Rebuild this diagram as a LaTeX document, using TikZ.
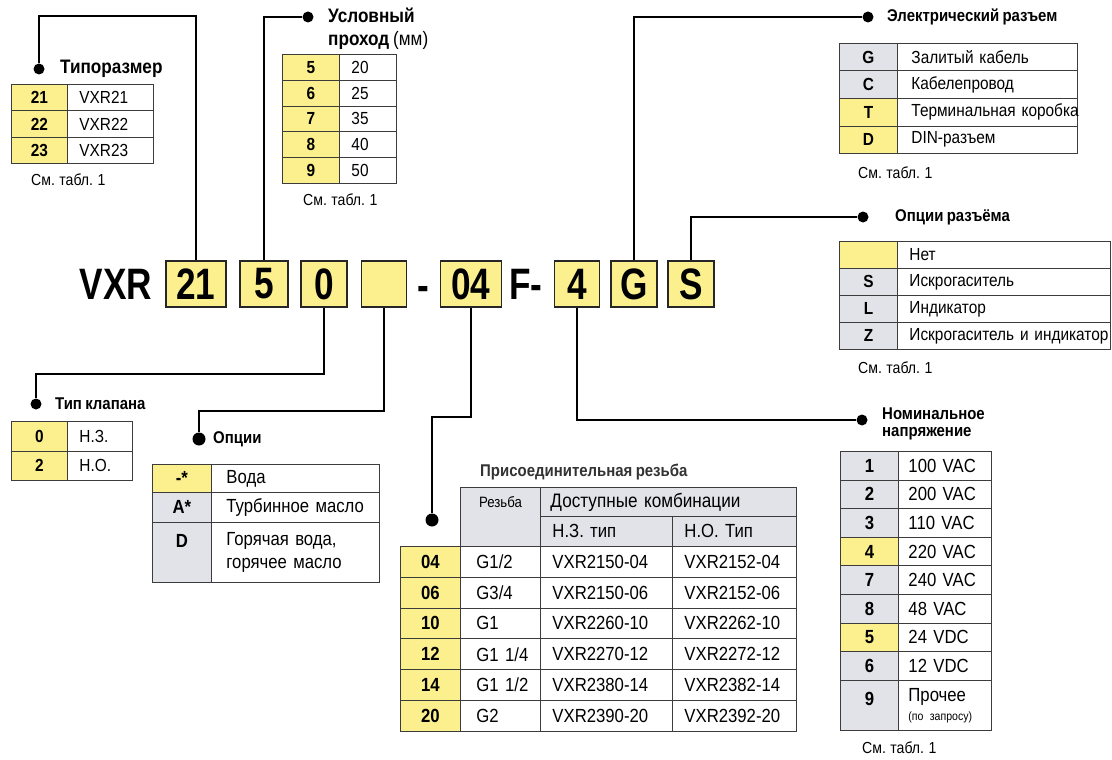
\documentclass[tikz,border=0pt]{standalone}
\usepackage{fontspec}
\setmainfont{Liberation Sans}[FakeStretch=0.88,WordSpace=0.8]
\newfontfamily\bigfont{Liberation Sans}[FakeStretch=0.8]
\usetikzlibrary{positioning}

\definecolor{codeyel}{HTML}{FCF08E}
\definecolor{cellgray}{HTML}{E2E3E8}
\definecolor{rulec}{HTML}{3C3C3C}
\newcommand{\tabsize}{\fontsize{17.5}{21}\selectfont}
\newcommand{\lowsize}{\fontsize{19}{23}\selectfont}
\newcommand{\headsize}{\fontsize{17}{17}\selectfont\bfseries}

\begin{document}
\begin{tikzpicture}[x=1pt,y=-1pt,
    codebox/.style={draw=black!85,line width=1.5pt,fill=codeyel,minimum height=46,inner sep=0pt,
      font=\bigfont\bfseries\fontsize{44}{44}\selectfont},
    bigtext/.style={inner sep=0pt,font=\bigfont\bfseries\fontsize{44}{44}\selectfont},
    cell/.style={draw=rulec,line width=0.9pt,inner sep=0pt,anchor=north west},
    codecell/.style={cell,font=#1\bfseries},
    codecell/.default=\tabsize,
    desccell/.style={cell,font=#1,inner xsep=12pt,align=left},
    desccell/.default=\tabsize,
    dot/.style={circle,fill=black,inner sep=0pt,minimum size=11},
    conn/.style={line width=1.5pt},
    heading/.style={anchor=west,inner sep=0pt,font=\headsize,align=left},
    note/.style={anchor=west,inner sep=0pt,font=\fontsize{16}{18}\selectfont}]
\fill[white] (0,0) rectangle (1112,760);
\useasboundingbox (0,0) rectangle (1112,760);

% code row
\node[bigtext] (vxr) at (116,284) {VXR};
\foreach \n/\x/\w/\t in {21/196/60/21, 5/264/48/5, 0/324/46/0, opt/384/45/{},
    04/471/61/04, 4/577/45/4, G/634/46/G, S/691/46/S}
  \node[codebox,minimum width=\w] (b\n) at (\x,284) {\t};
\node[bigtext] (dash) at (423,293) {-};
\node[bigtext] (fdash) at (526,284) {F-};

% Типоразмер
\node[dot] (typ-dot) at (39,69) {};
\node[heading,font=\bfseries\fontsize{19.5}{22}\selectfont] (typ-h) at (60,69) {Типоразмер};
\foreach \c/\d [count=\i] in {21/VXR21,22/VXR22,23/VXR23} {
  \node[codecell,fill=codeyel,minimum width=56,minimum height=26.3] (typ-c\i) at (11,{84+(\i-1)*26.3}) {\c};
  \node[desccell,text width=62,minimum height=26.3] (typ-d\i) at (67,{84+(\i-1)*26.3}) {\mbox{\d}};
}
\node[note] (typ-n) at (31,180) {См. табл. 1};
\draw[conn] (b21.north) -- ++(0,-244) -| (typ-dot);

% Условный проход
\node[dot] (dn-dot) at (308,17) {};
\node[heading,font=\bfseries\fontsize{19.5}{23}\selectfont] (dn-h) at (328,28.5) {Условный\\проход {\mdseries(мм)}};
\foreach \c/\d [count=\i] in {5/20,6/25,7/35,8/40,9/50} {
  \node[codecell,fill=codeyel,minimum width=57,minimum height=25.8] (dn-c\i) at (282,{54+(\i-1)*25.8}) {\c};
  \node[desccell,text width=33,minimum height=25.8] (dn-d\i) at (339,{54+(\i-1)*25.8}) {\mbox{\d}};
}
\node[note] (dn-n) at (303,200) {См. табл. 1};
\draw[conn] (b5.north) |- (dn-dot);

% Электрический разъем
\node[dot] (el-dot) at (868,17) {};
\node[heading] (el-h) at (887,17) {Электрический разъем};
\foreach \c/\d/\f [count=\i] in {G/Залитый кабель/cellgray, C/Кабелепровод/cellgray,
    T/Терминальная коробка/codeyel, D/DIN-разъем/codeyel} {
  \node[codecell,fill=\f,minimum width=58,minimum height=27.5] (el-c\i) at (839,{43+(\i-1)*27.5}) {\c};
  \node[desccell,inner xsep=14pt,text width=152,minimum height=27.5] (el-d\i) at (897,{43+(\i-1)*27.5}) {\mbox{\d}};
}
\node[note] (el-n) at (858,173) {См. табл. 1};
\draw[conn] (bG.north) |- (el-dot);

% Опции разъёма
\node[dot] (sw-dot) at (863,217) {};
\node[heading] (sw-h) at (895,217) {Опции разъёма};
\foreach \c/\d/\f [count=\i] in {/Нет/codeyel, S/Искрогаситель/cellgray,
    L/Индикатор/cellgray, Z/Искрогаситель и индикатор/cellgray} {
  \node[codecell,fill=\f,minimum width=58,minimum height=27] (sw-c\i) at (839,{241+(\i-1)*27}) {\c};
  \node[desccell,text width=189,minimum height=27] (sw-d\i) at (897,{241+(\i-1)*27}) {\mbox{\d}};
}
\node[note] (sw-n) at (858,368) {См. табл. 1};
\draw[conn] (bS.north) |- (sw-dot);

% Номинальное напряжение
\node[dot] (volt-dot) at (862,420) {};
\node[heading] (volt-h) at (882,423.5) {Номинальное\\напряжение};
\foreach \c/\d/\f [count=\i] in {1/100 VAC/cellgray, 2/200 VAC/cellgray, 3/110 VAC/cellgray,
    4/220 VAC/codeyel, 7/240 VAC/cellgray, 8/48 VAC/cellgray, 5/24 VDC/codeyel, 6/12 VDC/cellgray} {
  \node[codecell=\lowsize,fill=\f,minimum width=58,minimum height=28.6] (volt-c\i) at (840,{451+(\i-1)*28.6}) {\c};
  \node[desccell=\lowsize,inner xsep=10pt,text width=73,minimum height=28.6] (volt-d\i) at (898,{451+(\i-1)*28.6}) {\mbox{\d}};
}
\node[codecell=\lowsize,fill=cellgray,minimum width=58,text height=25,text depth=25] (volt-c9) at (840,680) {9};
\node[desccell=\lowsize,inner xsep=10pt,text width=73,minimum height=50] (volt-d9) at (898,680)
  {Прочее\\[-4pt]\mbox{\fontsize{12}{14}\selectfont(по запросу)}};
\node[note] (volt-n) at (862,748) {См. табл. 1};
\draw[conn] (b4.south) |- (volt-dot);

% Тип клапана
\node[dot] (vt-dot) at (36,404) {};
\node[heading] (vt-h) at (55,404) {Тип клапана};
\foreach \c/\d [count=\i] in {0/Н.З.,2/Н.О.} {
  \node[codecell,fill=codeyel,minimum width=56,minimum height=29.5] (vt-c\i) at (11,{421+(\i-1)*29.5}) {\c};
  \node[desccell,text width=41,minimum height=29.5] (vt-d\i) at (67,{421+(\i-1)*29.5}) {\mbox{\d}};
}
\draw[conn] (b0.south) -- ++(0,66) -| (vt-dot);

% Опции
\node[dot,minimum size=13] (opt-dot) at (199,439) {};
\node[heading] (opt-h) at (213,439) {Опции};
\foreach \c/\d/\f/\t/\h [count=\i] in {-*/Вода/codeyel/464/28, A*/Турбинное масло/cellgray/492/30} {
  \node[codecell=\lowsize,fill=\f,minimum width=59,minimum height=\h] (opt-c\i) at (152,\t) {\c};
  \node[desccell=\lowsize,inner xsep=15pt,text width=138,minimum height=\h] (opt-d\i) at (211,\t) {\mbox{\d}};
}
\node[codecell=\lowsize,fill=cellgray,minimum width=59,text height=25,text depth=35] (opt-c3) at (152,522) {D};
\node[desccell=\lowsize,inner xsep=15pt,text width=138,minimum height=60] (opt-d3) at (211,522)
  {Горячая вода,\\горячее масло};
\draw[conn] (bopt.south) -- ++(0,103) -| (opt-dot);

% Присоединительная резьба
\node[dot,minimum size=13] (thr-dot) at (432,520) {};
\node[heading,text=black!80] (thr-h) at (480,472) {Присоединительная резьба};
\node[cell,fill=cellgray,minimum width=80,text height=20.5,text depth=38.5,
  font=\fontsize{15}{17}\selectfont] (thr-h1) at (460,487) {Резьба};
\node[desccell=\fontsize{19.5}{22}\selectfont,fill=cellgray,inner xsep=10pt,text width=236,minimum height=29] (thr-h2) at (540,487) {\mbox{Доступные комбинации}};
\node[desccell=\lowsize,fill=cellgray,text width=108,minimum height=30] (thr-h3) at (540,516) {\mbox{Н.З. тип}};
\node[desccell=\lowsize,fill=cellgray,text width=100,minimum height=30] (thr-h4) at (672,516) {\mbox{Н.О. Тип}};
\foreach \c/\g/\nc/\no [count=\i] in {04/{G1/2}/VXR2150-04/VXR2152-04, 06/{G3/4}/VXR2150-06/VXR2152-06,
    10/G1/VXR2260-10/VXR2262-10, 12/{G1 1/4}/VXR2270-12/VXR2272-12,
    14/{G1 1/2}/VXR2380-14/VXR2382-14, 20/G2/VXR2390-20/VXR2392-20} {
  \node[codecell=\lowsize,fill=codeyel,minimum width=60,minimum height=30.8] (thr-c\i) at (400,{546+(\i-1)*30.8}) {\c};
  \node[desccell=\lowsize,inner xsep=16pt,text width=48,minimum height=30.8] (thr-g\i) at (460,{546+(\i-1)*30.8}) {\mbox{\g}};
  \node[desccell=\lowsize,text width=108,minimum height=30.8] (thr-n\i) at (540,{546+(\i-1)*30.8}) {\mbox{\nc}};
  \node[desccell=\lowsize,text width=100,minimum height=30.8] (thr-o\i) at (672,{546+(\i-1)*30.8}) {\mbox{\no}};
}
\draw[conn] (b04.south) -- ++(0,109) -| (thr-dot);
\end{tikzpicture}
\end{document}
